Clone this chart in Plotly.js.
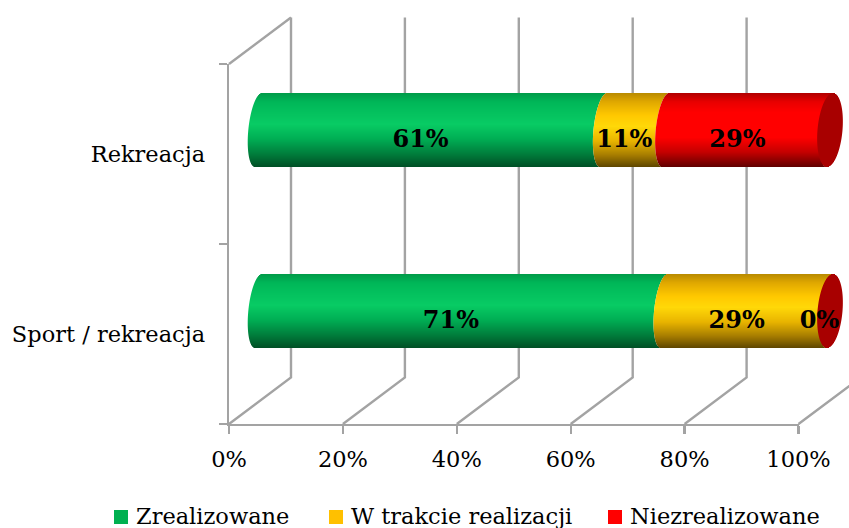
<!DOCTYPE html>
<html>
<head>
<meta charset="utf-8">
<script src="https://cdn.plot.ly/plotly-3.0.1.min.js"></script>
<style>html,body{margin:0;padding:0;background:#fff}#chart{width:849px;height:528px}</style>
</head>
<body>
<div id="chart"></div>
<script>
// Rows, bottom to top
const categories = ['Sport / rekreacja', 'Rekreacja'];
const seriesNames = ['Zrealizowane', 'W trakcie realizacji', 'Niezrealizowane'];
const zrealizowane = [71, 61];
const wTrakcie = [29, 11];
const niezrealizowane = [0, 29];
const seriesValues = [zrealizowane, wTrakcie, niezrealizowane];
const xTicks = [0, 20, 40, 60, 80, 100];
const xTickText = ['0%', '20%', '40%', '60%', '80%', '100%'];

const swatchColors = ['#00B050', '#FFC000', '#FF0000'];
// Cylinder shading from the top edge (0) to the bottom edge (1)
const shading = [
  [[0, '#009A48'], [0.12, '#00B658'], [0.42, '#08CC64'], [0.62, '#00AE54'], [0.82, '#007E3C'], [1, '#004F25']],
  [[0, '#B88A00'], [0.12, '#E0A800'], [0.3, '#FFC800'], [0.45, '#FFD808'], [0.65, '#E8B400'], [0.84, '#A67C00'], [1, '#5E4600']],
  [[0, '#B00000'], [0.12, '#E80000'], [0.26, '#FF0000'], [0.6, '#FF0000'], [0.8, '#C40000'], [1, '#600000']]
];
const capColor = '#A80000';
const gridColor = '#A3A3A3';
const lineWidth = 2.4;
const fontFamily = '"DejaVu Serif", serif';
const axisFontSize = 22.5;

const W = 849, H = 528;
const xPx = p => p / W;
const yPx = p => (H - p) / H;

// Pixel geometry of the oblique plot box
const plotLeft = 229, plotRight = 798.5, plotTop = 64, plotBottom = 424;
const barLeft = 258.5, barRight = 830;
const barCentreBottom = 311, barCentreTop = 130;
const frameUnitX = (plotRight - plotLeft) / 100;
const unitX = (barRight - barLeft) / 100;
const unitY = (plotBottom - plotTop) / 2;
const barUnitY = barCentreBottom - barCentreTop;
const depthX = 62 / frameUnitX;
const depthY = 46.5 / unitY;

function hexMix(stops, f) {
  for (let i = 1; i < stops.length; i++) {
    if (f <= stops[i][0]) {
      const [f0, c0] = stops[i - 1], [f1, c1] = stops[i];
      const k = (f - f0) / (f1 - f0);
      const ch = s => [1, 3, 5].map(j => parseInt(s.substr(j, 2), 16));
      const a = ch(c0), b = ch(c1);
      return 'rgb(' + a.map((v, j) => Math.round(v + (b[j] - v) * k)).join(',') + ')';
    }
  }
  return stops[stops.length - 1][1];
}

// Keeps the main axes on the page: they carry the ticks and tick labels
const axisTrace = {
  type: 'scatter', mode: 'markers', x: xTicks, y: xTicks.map(() => 0), xaxis: 'x', yaxis: 'y',
  marker: { opacity: 0, size: 1 }, showlegend: false, hoverinfo: 'skip'
};

// Back wall and floor of the plot box
const frameX = [], frameY = [];
xTicks.forEach(v => {
  frameX.push(v, v + depthX, v + depthX, null);
  frameY.push(0, depthY, 2 + depthY, null);
});
frameX.push(0, depthX, null);
frameY.push(2, 2 + depthY, null);

const frameTrace = {
  type: 'scatter', mode: 'lines', x: frameX, y: frameY, xaxis: 'x2', yaxis: 'y2',
  line: { color: gridColor, width: lineWidth }, showlegend: false, hoverinfo: 'skip'
};

// Each cylinder is a stack of one-pixel bands whose ends follow a skewed ellipse
const bandCount = 74;
const bandSize = 1 / barUnitY;
const bodyA = 10.2 / unitX, bodySkew = 3.5 / unitX;
const capA = 12.5 / unitX, capSkew = 3 / unitX;
const bandT = Array.from({ length: bandCount }, (_, i) => 1 - (2 * i + 1) / bandCount);
const leftEdge = t => bodySkew * t - bodyA * Math.sqrt(1 - t * t);
const bandY = (r, i) => r + 0.5 + (bandCount / 2 - 0.5 - i) * bandSize;

const shares = categories.map((_, r) => {
  const total = seriesValues.reduce((s, vals) => s + vals[r], 0);
  return seriesValues.map(vals => vals[r] / total * 100);
});

const barTraces = seriesNames.map((name, si) => {
  const xs = [], bases = [], ys = [], cols = [];
  categories.forEach((_, r) => {
    const start = shares[r].slice(0, si).reduce((a, b) => a + b, 0);
    bandT.forEach((t, i) => {
      xs.push(shares[r][si]);
      bases.push(start + leftEdge(t));
      ys.push(bandY(r, i));
      cols.push(hexMix(shading[si], (1 - t) / 2));
    });
  });
  return {
    type: 'bar', orientation: 'h', name, x: xs, base: bases, y: ys, width: bandSize,
    xaxis: 'x3', yaxis: 'y3',
    marker: { color: cols, line: { width: 0 } }, showlegend: false, hoverinfo: 'skip'
  };
});

// End caps of the cylinders
const capX = [], capBase = [], capY = [];
categories.forEach((_, r) => {
  bandT.forEach((t, i) => {
    const half = capA * Math.sqrt(1 - t * t);
    capX.push(2 * half);
    capBase.push(100 + capSkew * t - half);
    capY.push(bandY(r, i));
  });
});
const capTrace = {
  type: 'bar', orientation: 'h', x: capX, base: capBase, y: capY, width: bandSize,
  xaxis: 'x3', yaxis: 'y3',
  marker: { color: capColor, line: { width: 0 } }, showlegend: false, hoverinfo: 'skip'
};

// Value labels centred on the visible part of each segment
const labelShift = 10.5 / unitX, labelDrop = 11 / barUnitY;
const labelX = [], labelY = [], labelText = [];
categories.forEach((_, r) => {
  let start = 0;
  seriesValues.forEach((vals, si) => {
    labelX.push(start + shares[r][si] / 2 - labelShift);
    labelY.push(r + 0.5 - labelDrop);
    labelText.push(vals[r] + '%');
    start += shares[r][si];
  });
});
const labelTrace = {
  type: 'scatter', mode: 'text', x: labelX, y: labelY, text: labelText,
  textposition: 'middle center', xaxis: 'x3', yaxis: 'y3', cliponaxis: false,
  textfont: { family: fontFamily, size: 24, color: '#000', weight: 700 },
  showlegend: false, hoverinfo: 'skip'
};

const legendSquares = [114, 329, 608];
const legendTextX = [134, 349, 628];
const legendY = 517;
const shapes = legendSquares.map((x0, i) => ({
  type: 'rect', xref: 'paper', yref: 'paper',
  x0: xPx(x0), x1: xPx(x0 + 14), y0: yPx(legendY + 7), y1: yPx(legendY - 7),
  fillcolor: swatchColors[i], line: { width: 0 }
}));
const annotations = seriesNames.map((name, i) => ({
  xref: 'paper', yref: 'paper', x: xPx(legendTextX[i]), y: yPx(legendY - 1),
  xanchor: 'left', yanchor: 'middle', text: name, showarrow: false,
  font: { family: fontFamily, size: axisFontSize, color: '#000' }
}));

const layout = {
  width: W, height: H,
  margin: { l: 0, r: 0, t: 0, b: 0 },
  paper_bgcolor: '#fff', plot_bgcolor: 'rgba(0,0,0,0)',
  barmode: 'overlay', showlegend: false, font: { family: fontFamily, color: '#000' },
  xaxis: {
    domain: [xPx(plotLeft), xPx(plotRight)], range: [0, 100], fixedrange: true,
    tickvals: xTicks, ticktext: xTickText, ticks: 'outside', ticklen: 8, tickwidth: lineWidth, tickcolor: gridColor,
    showline: true, linecolor: gridColor, linewidth: lineWidth, showgrid: false, zeroline: false,
    tickfont: { family: fontFamily, size: axisFontSize, color: '#000' }, ticklabelstandoff: 6, anchor: 'y'
  },
  yaxis: {
    domain: [yPx(plotBottom), yPx(plotTop)], range: [0, 2], fixedrange: true,
    tickvals: categories.map((_, i) => i + 0.5), ticktext: categories, ticks: '', ticklabelstandoff: 17,
    minor: { tickvals: [0, 1, 2], ticks: 'outside', ticklen: 8, tickwidth: lineWidth, tickcolor: gridColor, showgrid: false },
    showline: true, linecolor: gridColor, linewidth: lineWidth, showgrid: false, zeroline: false,
    tickfont: { family: fontFamily, size: axisFontSize, color: '#000' }, anchor: 'x'
  },
  // Full-page axes carrying the wall lines, in the same units as the main axes
  xaxis2: { domain: [0, 1], range: [-plotLeft / frameUnitX, (W - plotLeft) / frameUnitX], visible: false, fixedrange: true, anchor: 'y2' },
  yaxis2: { domain: [0, 1], range: [(plotBottom - H) / unitY, plotBottom / unitY], visible: false, fixedrange: true, anchor: 'x2' },
  // Full-page axes carrying the cylinders, shifted forward along the depth of the box
  xaxis3: { domain: [0, 1], range: [-barLeft / unitX, (W - barLeft) / unitX], visible: false, fixedrange: true, anchor: 'y3' },
  yaxis3: { domain: [0, 1], range: [(barCentreBottom + 0.5 * barUnitY - H) / barUnitY, (barCentreBottom + 0.5 * barUnitY) / barUnitY], visible: false, fixedrange: true, anchor: 'x3' },
  shapes, annotations
};

Plotly.newPlot('chart', [axisTrace, frameTrace, ...barTraces, capTrace, labelTrace], layout, { displayModeBar: false, staticPlot: true });
</script>
</body>
</html>
